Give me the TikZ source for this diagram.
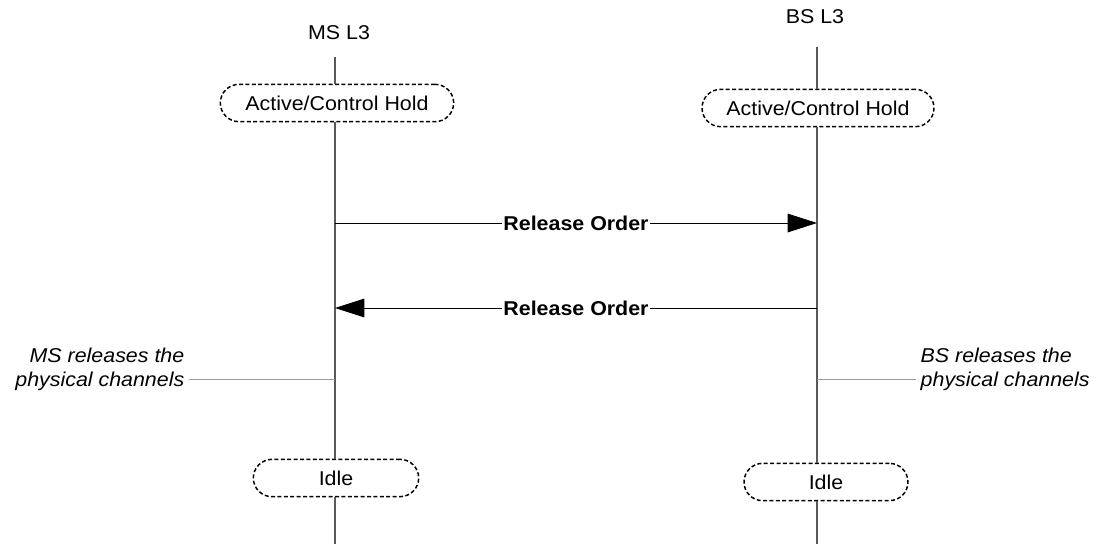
\documentclass[tikz,border=0pt]{standalone}
\usepackage{fontspec}
\setmainfont{Liberation Sans}[FakeStretch=1.07]
\usetikzlibrary{positioning, arrows.meta}

\begin{document}
\begin{tikzpicture}[x=0.75pt,y=-0.75pt,>={Triangle[length=22pt,width=14pt]},
  life/.style={draw=gray!70!black, line width=0.8pt},
  state/.style={draw, dash pattern=on 3pt off 1.8pt, line width=1.1pt, rounded corners=14pt, minimum height=28pt, font=\fontsize{15}{17}\selectfont},
  msg/.style={->, line width=0.6pt},
  lbl/.style={fill=white, inner sep=1pt, font=\bfseries\fontsize{15}{17}\selectfont},
  note/.style={font=\itshape\fontsize{15}{18}\selectfont},
  hint/.style={draw=gray!80, line width=0.4pt}]
  \useasboundingbox (0,0) rectangle (1108,544);

  % heads
  \node[font=\fontsize{15}{17}\selectfont] (ms) at (339,33) {MS L3};
  \node[font=\fontsize{15}{17}\selectfont] (bs) at (815,17) {BS L3};
  \coordinate (msTop) at (335,57);
  \coordinate (msBot) at (335,544);
  \coordinate (bsTop) at (817,47);
  \coordinate (bsBot) at (817,544);

  % states
  \node[state, minimum width=175pt] (msAct) at (337,103) {Active/Control Hold};
  \node[state, minimum width=174pt] (bsAct) at (818,108) {Active/Control Hold};
  \node[state, minimum width=124pt] (msIdle) at (336,478) {Idle};
  \node[state, minimum width=123pt] (bsIdle) at (826,482) {Idle};

  % lifelines
  \draw[life] (msTop) -- (msAct.north -| msTop);
  \draw[life] (msAct.south -| msTop) -- (msIdle.north -| msTop);
  \draw[life] (msIdle.south -| msTop) -- (msBot);
  \draw[life] (bsTop) -- (bsAct.north -| bsTop);
  \draw[life] (bsAct.south -| bsTop) -- (bsIdle.north -| bsTop);
  \draw[life] (bsIdle.south -| bsTop) -- (bsBot);

  % messages
  \coordinate (m1) at (335,223);
  \coordinate (b1) at (817,223);
  \coordinate (m2) at (335,308);
  \coordinate (b2) at (817,308);
  \draw[msg] (m1) -- node[lbl] {Release Order} (b1);
  \draw[msg] (b2) -- node[lbl] {Release Order} (m2);

  % notes
  \coordinate (m3) at (335,379);
  \coordinate (b3) at (817,379);
  \node[note, anchor=east, align=right] (msNote) at (189,369) {MS releases the\\physical channels};
  \node[note, anchor=west, align=left] (bsNote) at (916,369) {BS releases the\\physical channels};
  \draw[hint] (msNote.east |- m3) -- (m3);
  \draw[hint] (b3) -- (bsNote.west |- b3);
\end{tikzpicture}
\end{document}
